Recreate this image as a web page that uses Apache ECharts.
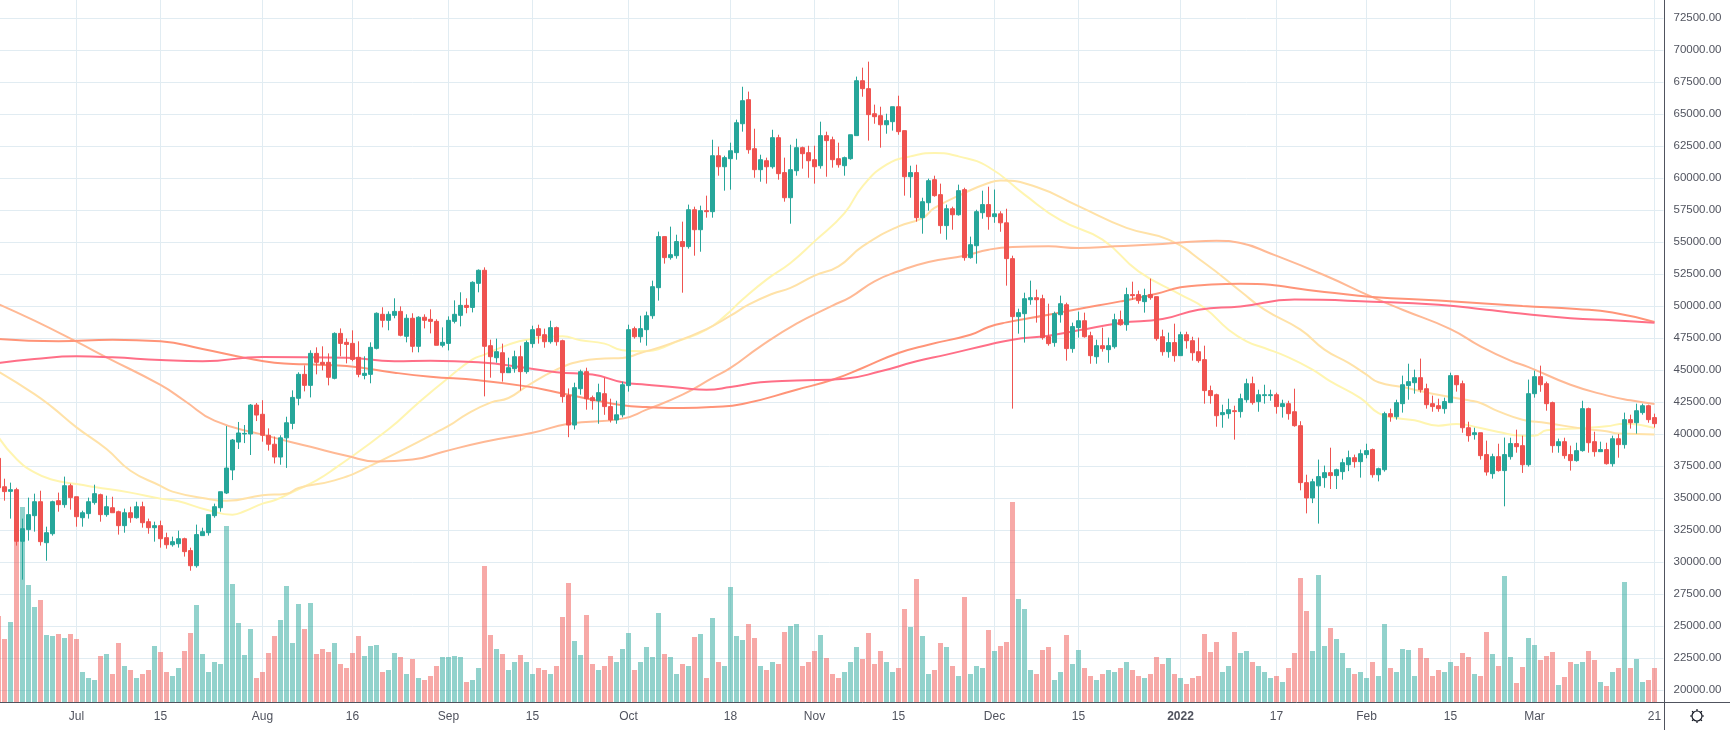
<!DOCTYPE html>
<html>
<head>
<meta charset="utf-8">
<title>BTC daily</title>
<script src="https://cdn.jsdelivr.net/npm/echarts@6/dist/echarts.min.js"></script>
<style>
html, body { margin: 0; padding: 0; background: #fff; overflow: hidden; }
/* pushed 5px left so the first candle is cut by the window edge */
#chart { width: 1735px; height: 730px; margin-left: -5px; }
</style>
</head>
<body>
<div id="chart"></div>
<script>
// one row per day from 2021-06-18: open, close, low, high
var candles = [
	[38100,35800,35500,38200],
	[35880,35500,34790,36510],[35520,35650,33390,36200],[35650,31620,31280,35800],[31620,32600,28620,33390],[32530,33700,31670,35030],
	[33620,34710,32370,35340],[34710,31590,31280,35570],[31510,32290,30100,32760],[32210,34710,32060,34790],[34790,34480,33930,35420],
	[34480,35960,34240,36670],[35960,35030,34090,36120],[35100,33540,32760,35100],[33460,33850,32760,34010],[33780,34710,33390,35030],
	[34640,35340,34480,36040],[35260,33700,33150,35340],[33700,34320,33540,35180],[34240,33850,33850,35100],[33930,32840,32140,34010],
	[32840,33850,32290,34170],[33850,33460,33070,34320],[33460,34320,33390,34710],[34320,33070,32680,34710],[33150,32680,32210,33390],
	[32680,32840,31590,33150],[32840,31820,31120,33230],[31900,31350,31040,32290],[31350,31590,31200,31980],[31430,31820,31120,32450],
	[31820,30810,30420,31900],[30890,29710,29320,31120],[29710,32140,29560,32920],[32060,32370,32060,32680],[32290,33700,32060,33700],
	[33620,34320,33460,34560],[34240,35490,33930,35490],[35390,37340,35310,40620],[37190,39530,36400,39610],[39370,40080,38830,40940],
	[40000,40050,39290,40700],[40000,42260,38360,42340],[42260,41480,41010,42420],
	[41540,39900,39400,42640],[39900,39200,38700,40440],[39200,38200,37700,39800],[38200,39700,37600,39900],[39700,40880,37350,41350],
	[40830,42860,40370,43410],[42790,44660,42240,44820],[44660,43800,43330,45360],[43800,46300,42860,46540],[46300,45600,44660,46770],
	[45600,45440,44970,46850],[45600,44430,43800,46300],[44350,47860,44270,47940],[47860,47080,46070,48250],[47160,47000,45520,47470],
	[47080,45830,45680,48100],[45990,44660,44430,47240],[44580,44740,44270,46070],[44660,46770,43960,47160],[46690,49430,46610,49500],
	[49350,48880,48330,49900],[48880,49350,48100,49580],[49270,49580,49040,50600],[49580,47710,47630,49970],[47630,49040,47160,49350],
	[49040,46850,46380,49430],[46850,49120,46380,49200],[49120,48880,48250,49350],[48960,48800,47860,49740],[48800,46930,46930,48960],
	[46930,47160,46770,48330],[47080,48880,46530,49190],[48800,49350,48640,50440],[49270,50050,48410,51070],[50050,49890,49430,50600],
	[49890,51850,49500,51930],[51770,52790,51070,52860],[52790,46850,42940,53020],[46900,46040,44400,47370],[45960,46430,45570,47450],
	[46350,44790,44090,47060],[44790,45180,44790,45960],[45100,46040,44790,46510],[46040,44870,43390,46900],[44870,47140,44710,47300],
	[47060,48150,46740,48460],[48230,47680,47060,48540],[47760,47210,46740,48230],[47210,48310,47060,48850],[48310,47210,46900,48390],
	[47290,42920,42450,47370],[43000,40700,39750,43560],[40700,43620,40350,44010],[43540,44870,43070,45030],[44870,42760,41900,45180],
	[42840,42600,41900,43000],[42600,43230,40800,43930],[43150,42140,41500,44400],[42140,41100,40900,42760],[41100,41500,40800,42600],
	[41500,43850,41300,44090],[43780,48150,43310,48540],[48230,47600,47450,48390],[47600,48230,47140,49240],[48150,49240,46900,49560],
	[49240,51510,49000,51980],[51430,55420,50420,55810],[55420,53780,53310,55420],[53780,54010,53620,56200],[53930,55030,53700,55570],
	[55030,54640,51040,56590],[54640,57520,54480,57920],[57520,55960,53930,57760],[55960,57450,54240,57840],[57450,57370,56900,58620],
	[57370,61740,56900,62990],[61740,60880,60180,62450],[60880,61590,59010,61740],[61510,62130,59090,62760],[61980,64320,61430,64560],
	[64240,66040,63620,67130],[66120,62210,61900,66750],[62290,60650,60020,63850],[60650,61430,59710,61820],[61350,60880,59560,61590],
	[60880,63150,60730,63770],[63150,60340,59870,63380],[60420,58460,58150,61590],[58460,60650,56430,62600],[60570,62370,60180,63070],
	[62370,61900,60730,62450],[61980,61350,60020,62520],[61430,60880,59560,62520],[60960,63310,60730,64400],[63310,62920,60100,63620],
	[62990,61430,60810,63230],[61510,61040,60810,62760],[60960,61590,60180,61670],[61510,63380,61430,63380],[63310,67600,63310,67920],
	[67600,66980,66350,68620],[66980,64950,62920,69090],[65020,64790,64240,65730],[64870,64160,62370,65570],[64160,64480,63460,65020],
	[64400,65570,63700,65570],[65570,63620,63380,66430],[63700,60100,58620,63700],[60100,60420,58460,60960],[60420,56900,56590,61040],
	[56900,58150,55650,58460],[58070,59790,57450,59950],[59870,58620,58540,60180],[58700,56280,55650,59560],[56280,57600,55180,57920],
	[57600,57130,55960,57760],[57130,59010,57060,59480],[59090,53780,53540,59240],[53780,54790,53700,55420],[54710,57370,53310,57520],
	[57290,57920,56820,59010],[57920,56980,55960,59320],[56980,57200,56500,59100],[57200,56500,55800,57400],[56500,53700,51590,57600],
	[53700,49170,41980,53930],[49170,49480,47840,49790],[49400,50570,47140,51040],[50490,50650,50100,51980],[50650,50490,48700,51280],
	[50570,47530,47370,50880],[47600,47060,46900,50180],[47140,49400,46820,49560],[49320,50180,48700,50810],[50100,46670,45730,50260],
	[46670,48390,46350,48700],[48310,48850,47530,49560],[48850,47600,47530,49480],[47680,46120,45490,47990],[46040,46900,45490,47370],
	[46900,46670,46430,48310],[46590,46900,45570,47530],[46820,48930,46670,49400],[48930,48540,48460,49640],[48540,50890,48070,51430],
	[50890,50810,50490,51900],[50890,50420,50180,51200],[50340,50810,49480,51350],[50890,50650,50490,52140],[50730,47450,47290,50730],
	[47600,46430,46120,48150],[46430,47140,45960,47920],[47140,46120,45650,48620],[46120,47760,46120,47990],[47760,47290,46670,47990],
	[47290,46350,45730,47600],[46430,45730,45570,47530],[45810,43390,42370,46900],[43390,43000,42370,43780],[43070,41430,40570,43150],
	[41510,41670,40490,42290],[41590,41900,41200,42760],[41820,41750,39560,42210],[41750,42760,41280,43150],[42680,43930,42450,44320],
	[43930,42450,42290,44480],[42530,43070,41740,43460],[43000,43070,42370,43850],[43000,43070,42600,43460],[43070,42140,41590,43230],
	[42140,42370,41280,42680],[42370,41590,41120,42600],[41740,40650,40570,43540],[40650,36200,35600,41000],[36200,35000,33800,36820],
	[35000,36270,34600,36500],[35950,36670,33000,38000],[36590,36980,35800,37530],[36980,36750,35700,38930],[36750,37210,35700,37290],
	[37060,37760,36430,38070],[37600,38150,37100,38700],[38150,37840,37370,38390],[37840,38460,36590,38780],[38390,38700,38100,39240],
	[38780,36820,36590,38860],[36820,37290,36300,37370],[37210,41590,37060,41740],[41590,41350,40960,41980],[41350,42450,41120,42680],
	[42370,43850,41670,44560],[43780,44090,42680,45490],[44010,44400,43150,45030],[44400,43460,43230,45890],[43540,42290,41980,43930],
	[42370,42140,41740,43000],[42210,41980,41740,42760],[41980,42530,41590,42840],[42450,44560,42450,44790],[44560,43850,43310,44560],
	[43930,40490,40100,44170],[40490,39870,39400,40960],[39950,40100,39560,40490],[40100,38310,38000,40100],[38390,37030,36750,39480],
	[36900,38230,36510,38460],[38230,37140,37060,39240],[37140,38390,34350,39720],[38230,39250,38000,39710],[39250,39010,38540,40340],
	[39090,37600,36960,39870],[37600,43150,37450,44250],[43150,44480,42840,44950],[44480,43850,43300,45340],[43930,42370,41820,44090],
	[42450,39090,38540,42530],[39090,39400,38540,39640],[39400,38310,38070,39710],[38390,37920,37140,39090],[37920,38700,37840,39320],
	[38700,41980,38620,42600],[41980,39320,38540,42060],[39400,38620,38230,40180],[38620,38780,38620,39400],[38780,37680,37610,39320],
	[37680,39630,37450,39870],[39630,39170,38150,40000],[39170,41120,38860,41670],[41120,40880,40420,41510],[40880,41820,40030,42370],
	[41670,42210,41510,42370],[42210,41120,40880,42290],[41280,40810,40500,41590]
];

var volumes = [
	43,31.5,40,89,97.5,58.5,47.5,51,33.5,33,34,32,34,31.5,15,12,11,23,24,14,29.5,
	18,16,12,14,16,28,25,15,13,17,25.5,34.5,48.5,24,15,20,19,88,59,39.5,
	23.5,36.5,12,15,24.5,33,41,58,29.5,49,36.5,49.5,24,26.5,25,29.5,19,17,24.5,33,
	23,28,28.5,15,16,24.5,22.5,14,21.5,12,11,13,18,22.5,22.5,23,22.5,10,11,17,
	68,33.5,26.5,24,16,20,23.5,20,14,17,16,14,18,42.5,59.5,30.5,23.5,43.5,19,16,
	18,23,20,26.5,34.5,16,20,27.5,22.5,44.5,24,22.5,14,19,18,32.5,34,12,42,20,
	18,57.5,33,31,39,32,18,16,20,19,35,38,39,18,20,25.5,33.5,22,14,12,
	15,20,27.5,21.5,34.5,19,25.5,20,15,17,46.5,37.5,61.5,33,14,16,29.5,27.5,18,13,
	52.5,14,18,17,36,25.5,28,30,100,51.5,46.5,16,14,26,27.5,11,15,33.5,19,26,
	17,13,11,14,16,15,17,20,16,13,12,14,22.5,19,22,14,12,9,12,13,
	34,25,30,15,18,35,24.5,25.5,20,18,15,12,13,10,17,24.5,62,45.5,25.5,63.5,
	28,37,31.5,24.5,17,14,15,12,20,13,39,17,15,26.5,26,13,27,22,13,16,
	15,20,18,24.5,22.5,14,13,35,24,18,63,22.5,9.5,17.5,32,28.5,21,23,25,8.5,
	12.5,20,19,20,25.5,21,10,8,15,17,60,17,21.5,10,11,17
];

// moving average readings: [days since 2021-06-19, price]
var ma1 = [[-1,39740],[2,38050],[5,37000],[8,36430],[12,36090],[15,35860],[21,35420],[26,34950],[29,34740],[34,34040],[38,33700],[40,33960],[43,34560],[45,34820],[48,35470],[52,36380],[55,37290],[64,40365],[69,42450],[74,44400],[78,45830],[80,46200],[84,46980],[87,47370],[93,47630],[96,47320],[100,47060],[103,46540],[106,46460],[113,47370],[117,48150],[120,49190],[123,50500],[127,52060],[131,53360],[135,55050],[140,57260],[143,59350],[147,61040],[151,61690],[155,61950],[159,61690],[164,60860],[170,58700],[176,56700],[183,55180],[189,52710],[196,50890],[200,49840],[204,48150],[207,47240],[210,46720],[214,45990],[218,45030],[221,44110],[226,42800],[229,41640],[232,41250],[235,41070],[239,40650],[242,40780],[246,40470],[249,40160],[253,39870],[255,39870],[257,40290],[263,40470],[267,40600],[270,40810],[275,40470]];
var ma2 = [[-1,44870],[5,43120],[8,42080],[12,40520],[17,38830],[21,37130],[26,35950],[28,35500],[33,35000],[37,34780],[43,35210],[47,35340],[49,35780],[55,36380],[60,37290],[74,40630],[77,41540],[81,42450],[84,42810],[87,43720],[92,45030],[96,45680],[100,45890],[103,45940],[106,46330],[111,47060],[117,48200],[121,49240],[124,50100],[128,50960],[131,51410],[135,52370],[139,53100],[143,54660],[149,56220],[153,56870],[155,57660],[160,58830],[164,59610],[166,59800],[172,59300],[179,57800],[187,56100],[194,55180],[200,53360],[206,51150],[210,49710],[216,48150],[220,46590],[224,45550],[227,44640],[229,44040],[233,43670],[238,43150],[244,42630],[246,42420],[249,41770],[253,41120],[257,40860],[263,40420],[267,40210],[269,40030],[275,39970]];
var ma3 = [[-1,50150],[5,48850],[12,47210],[17,45990],[26,43830],[30,42600],[35,41040],[43,39950],[51,39000],[57,38300],[62,37850],[68,38000],[73,38600],[80,39400],[88,40100],[94,40800],[103,41200],[107,41900],[113,43070],[118,44380],[121,45160],[126,46850],[132,48620],[138,50030],[141,50700],[145,51930],[149,52710],[154,53440],[160,53930],[164,54400],[168,54610],[174,54660],[179,54530],[185,54660],[193,54840],[197,55000],[202,55100],[206,54920],[211,54100],[220,52400],[228,50690],[233,49710],[241,48200],[246,46850],[251,45730],[254,45230],[261,43850],[267,43020],[271,42630],[275,42340]];
var ma4 = [[-1,47420],[9,47240],[18,47370],[26,47240],[33,46640],[40,45960],[45,45570],[50,45440],[57,45310],[65,44790],[71,44480],[79,44190],[87,43720],[92,43260],[98,42680],[103,42240],[107,42110],[113,42030],[118,42110],[123,42340],[132,43460],[138,44240],[143,45160],[149,46330],[154,46980],[161,47760],[164,48360],[167,48720],[174,49320],[179,49770],[186,50360],[192,50960],[196,51460],[200,51640],[206,51740],[220,51100],[228,50700],[239,50430],[253,50000],[262,49760],[268,49500],[275,48750]];
var ma5 = [[-1,45550],[5,45860],[12,46070],[18,45990],[26,45780],[33,45680],[43,46020],[57,45960],[65,45680],[71,45730],[79,45600],[87,45160],[92,44820],[98,44640],[103,44040],[107,43850],[113,43590],[117,43460],[121,43670],[126,44040],[132,44170],[140,44320],[146,44900],[152,45680],[157,46200],[164,46980],[168,47370],[174,47680],[179,48100],[186,48670],[193,48980],[199,49710],[206,49970],[215,50500],[228,50340],[239,50090],[247,49710],[251,49500],[261,49050],[268,48880],[275,48700]];

var tickLabels = {
	'2021-07-01':'Jul','2021-07-15':'15','2021-08-01':'Aug','2021-08-16':'16','2021-09-01':'Sep','2021-09-15':'15',
	'2021-10-01':'Oct','2021-10-18':'18','2021-11-01':'Nov','2021-11-15':'15','2021-12-01':'Dec','2021-12-15':'15',
	'2022-01-01':'2022','2022-01-17':'17','2022-02-01':'Feb','2022-02-15':'15','2022-03-01':'Mar','2022-03-21':'21'
};

var UP = '#26a69a', DOWN = '#ef5350';
var TEXT = '#50535e', GRID = '#e1ecf2';
var SHIFT = 5;	// same as the margin-left on #chart

var categories = [];
for (var d = 0; d < candles.length; d++) {
	categories.push(new Date(Date.UTC(2021, 5, 18 + d)).toISOString().slice(0, 10));
}
categories.push('');	// empty slot right of the last candle

function maSeries(points, color) {
	return {
		type: 'line', xAxisIndex: 0, yAxisIndex: 0, z: 2,
		data: points.map(function (p) { return [p[0] + 1, p[1]]; }),
		symbol: 'none', smooth: 0.5, silent: true,
		lineStyle: { color: color, width: 2 }
	};
}

function gearIcon() {
	var cx = 1697 + SHIFT, cy = 716, parts = [];
	parts.push({ type: 'circle', shape: { cx: cx, cy: cy, r: 5 }, style: { fill: 'none', stroke: '#131722', lineWidth: 1.2 } });
	for (var a = 0; a < 8; a++) {
		var t = a * Math.PI / 4;
		parts.push({ type: 'line', shape: {
			x1: cx + 5 * Math.cos(t), y1: cy + 5 * Math.sin(t),
			x2: cx + 7 * Math.cos(t), y2: cy + 7 * Math.sin(t)
		}, style: { stroke: '#131722', lineWidth: 1.2 } });
	}
	return { type: 'group', children: parts };
}

var chart = echarts.init(document.getElementById('chart'), null, { renderer: 'canvas' });

var option = {
	animation: false,
	backgroundColor: '#fff',
	textStyle: { fontFamily: 'Liberation Sans' },
	grid: [
		{ left: 0.5, width: 1668, top: 18, height: 672 },
		{ left: 0.5, width: 1668, top: 0, height: 702 }
	],
	xAxis: [
		{
			type: 'category', gridIndex: 0, data: categories, boundaryGap: true,
			axisLine: { show: false }, axisTick: { show: false }, axisLabel: { show: false }, splitLine: { show: false }
		},
		{
			type: 'category', gridIndex: 1, data: categories, boundaryGap: true,
			axisLine: { show: false }, axisTick: { show: false },
			axisLabel: {
				color: TEXT, fontSize: 12, margin: 9,
				interval: function (i, name) { return tickLabels[name] !== undefined; },
				formatter: function (name) {
					return name === '2022-01-01' ? '{b|2022}' : tickLabels[name];
				},
				rich: { b: { fontWeight: 'bold', fontSize: 12, color: TEXT } }
			},
			splitLine: {
				show: true, alignWithLabel: true,
				interval: function (i, name) { return tickLabels[name] !== undefined; },
				lineStyle: { color: GRID, width: 1 }
			}
		}
	],
	yAxis: [
		{
			type: 'value', gridIndex: 0, position: 'right', min: 20000, max: 72500, interval: 2500,
			axisLine: { show: false }, axisTick: { show: false },
			axisLabel: {
				color: TEXT, fontSize: 11.5, margin: 10,
				formatter: function (v) { return v.toFixed(2); }
			},
			splitLine: { show: true, lineStyle: { color: GRID, width: 1 } }
		},
		{
			type: 'value', gridIndex: 1, position: 'right', min: 0, max: 351,
			axisLine: { show: false }, axisTick: { show: false }, axisLabel: { show: false }, splitLine: { show: false }
		}
	],
	series: [
		{
			type: 'bar', xAxisIndex: 1, yAxisIndex: 1, z: 1, barWidth: 5, silent: true,
			data: volumes.map(function (v, i) {
				var up = candles[i][1] >= candles[i][0];
				return { value: v, itemStyle: { color: up ? 'rgba(38,166,154,0.5)' : 'rgba(239,83,80,0.5)' } };
			})
		},
		maSeries(ma1, '#fff5b0'),
		maSeries(ma2, '#ffe2a8'),
		maSeries(ma3, '#ffb995'),
		maSeries(ma4, '#ff9478'),
		maSeries(ma5, '#ff6f87'),
		{
			type: 'candlestick', xAxisIndex: 0, yAxisIndex: 0, z: 3, barWidth: 5, silent: true,
			data: candles,
			itemStyle: { color: UP, color0: DOWN, borderColor: UP, borderColor0: DOWN, borderWidth: 1 }
		}
	],
	graphic: [
		{ type: 'line', silent: true, z: 10, shape: { x1: 0, y1: 702.5, x2: 1735, y2: 702.5 }, style: { stroke: TEXT, lineWidth: 1 } },
		{ type: 'line', silent: true, z: 10, shape: { x1: 1664.5 + SHIFT, y1: 0, x2: 1664.5 + SHIFT, y2: 730 }, style: { stroke: TEXT, lineWidth: 1 } },
		gearIcon()
	]
};

chart.setOption(option);
</script>
</body>
</html>
